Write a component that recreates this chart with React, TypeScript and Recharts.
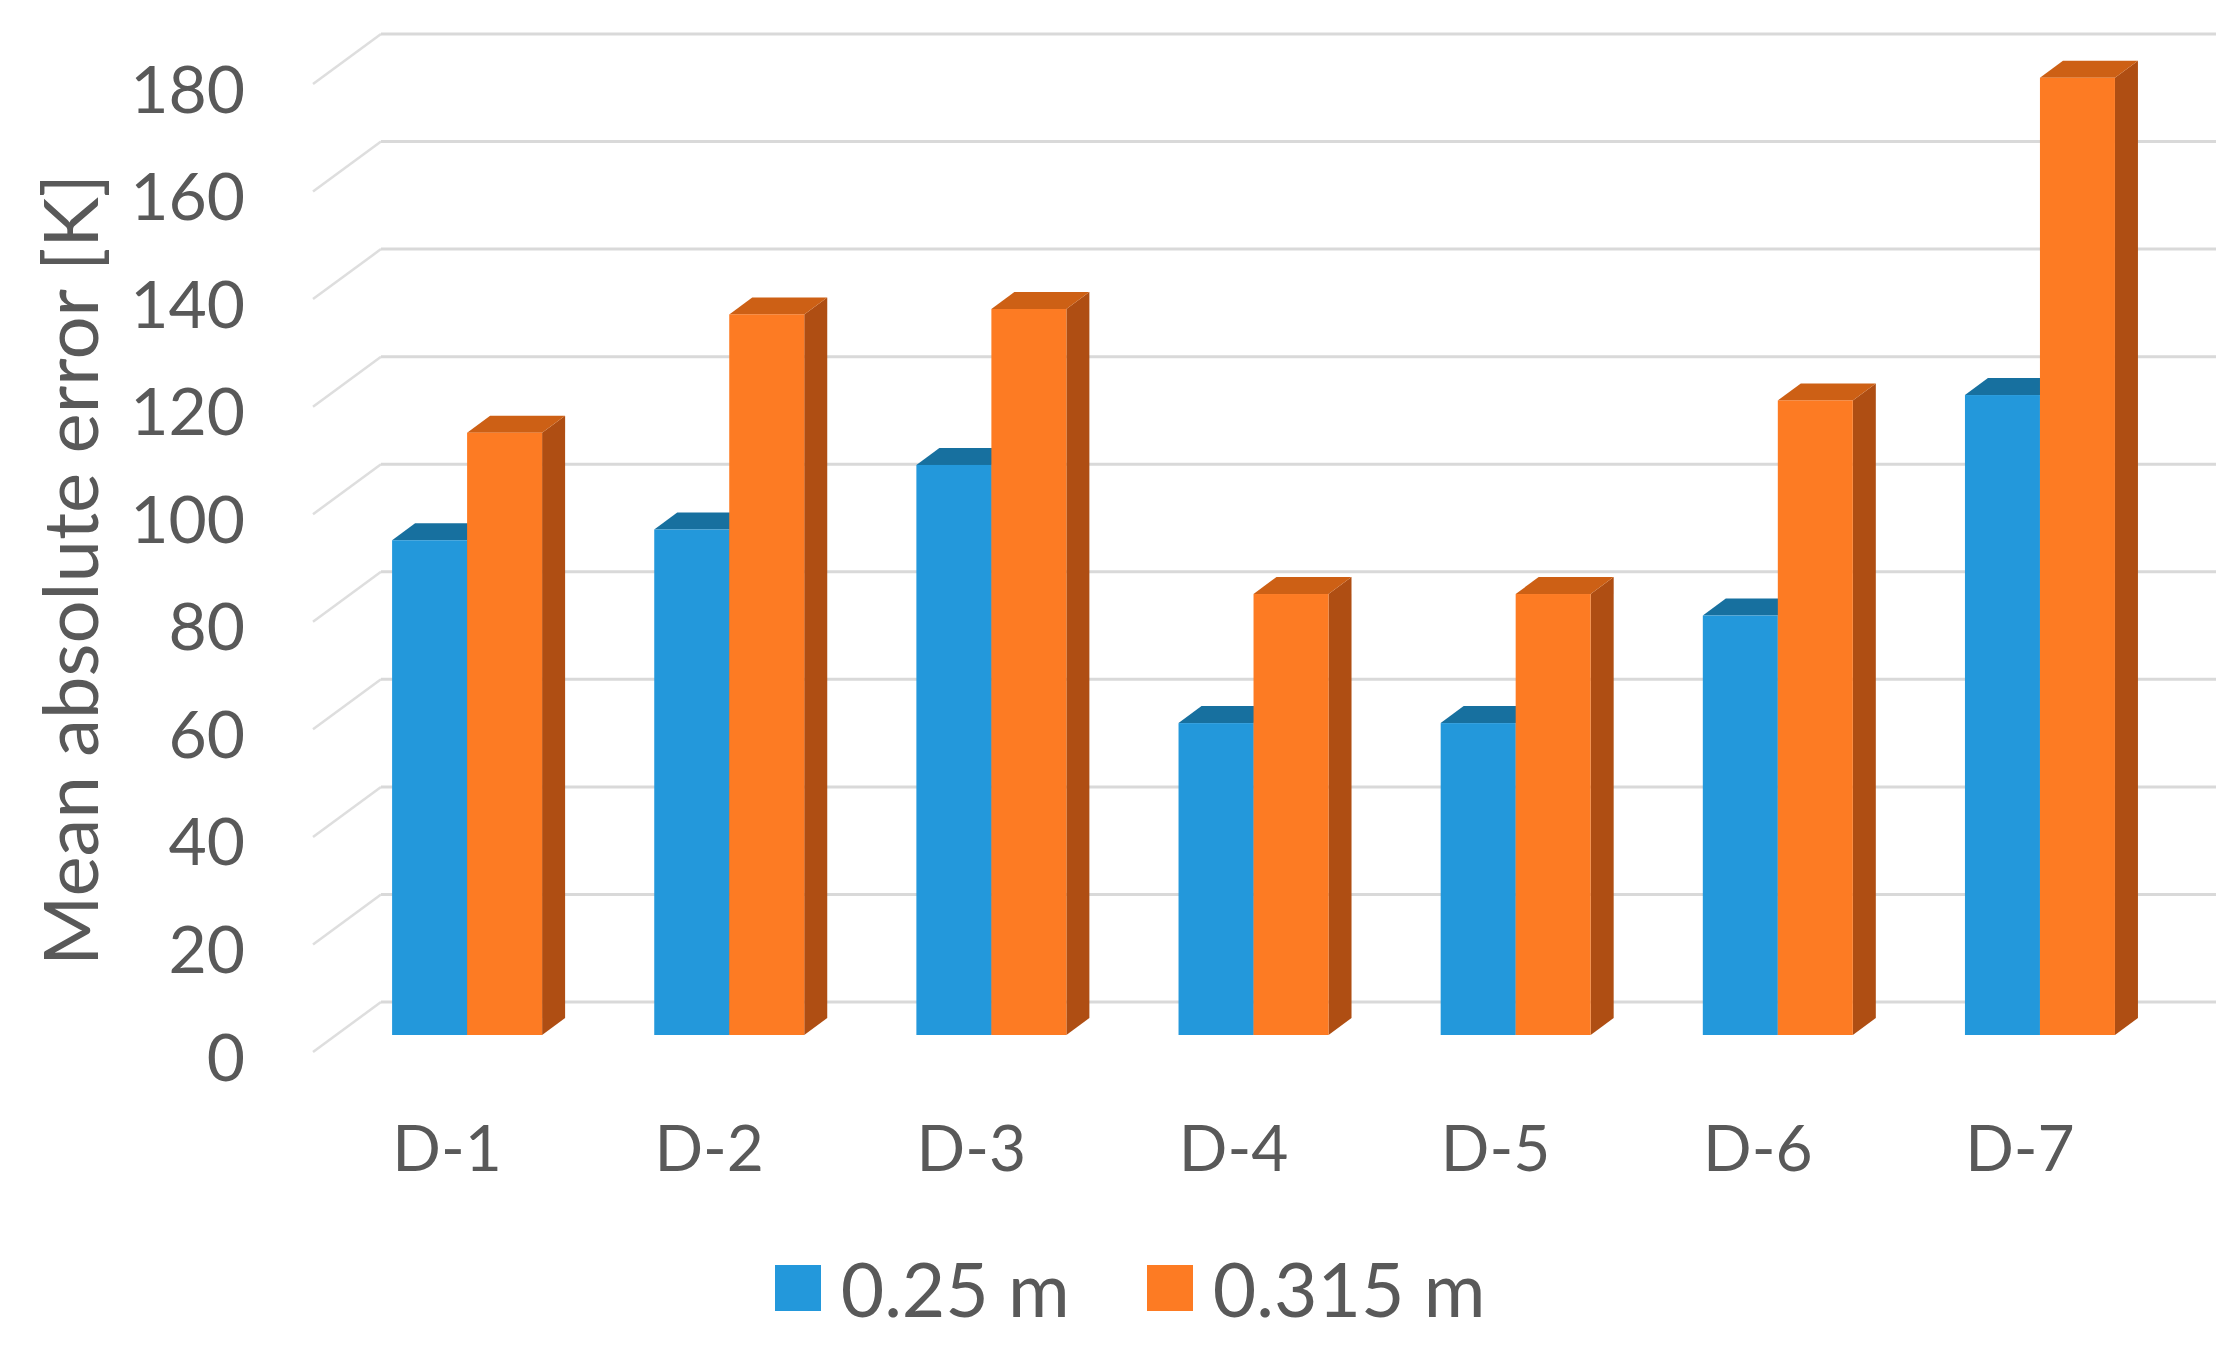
import React from 'react';
import { BarChart, Bar, XAxis, YAxis, CartesianGrid, Legend, Label } from 'recharts';

const categories = ['D-1', 'D-2', 'D-3', 'D-4', 'D-5', 'D-6', 'D-7'];
const series025 = [92, 94, 106, 58, 58, 78, 119];
const series0315 = [112, 134, 135, 82, 82, 118, 178];
const yTicks = [0, 20, 40, 60, 80, 100, 120, 140, 160, 180];
const seriesNames = ['0.25 m', '0.315 m'];
const yTitle = 'Mean absolute error [K]';

const data = categories.map((c, i) => ({ name: c, s1: series025[i], s2: series0315[i] }));

const FONT = 'Lato, "Open Sans", sans-serif';
const TEXT = '#595959';
const DX = 23;
const DY = 17;

const palettes = {
  s1: { front: '#2398DB', top: '#17709F', side: '#145E86' },
  s2: { front: '#FD7B23', top: '#CD6015', side: '#AF4E13' },
};

const makeShape = (pal: any) => (props: any) => {
  const { x, y, width, height } = props;
  if (height == null || width == null) return null;
  const top = `M${x},${y} L${x + DX},${y - DY} L${x + width + DX},${y - DY} L${x + width},${y} Z`;
  const side = `M${x + width},${y} L${x + width + DX},${y - DY} L${x + width + DX},${y + height - DY} L${x + width},${y + height} Z`;
  return (
    <g>
      <path d={side} fill={pal.side} />
      <path d={top} fill={pal.top} />
      <rect x={x} y={y} width={width} height={height} fill={pal.front} />
    </g>
  );
};

const gridLine = (p: any) => {
  const { x1, x2, y1 } = p;
  const bx = 45;
  const by = 33;
  return (
    <g key={p.key}>
      <line x1={x1 - DX} y1={y1 + DY} x2={x1 + bx} y2={y1 - by} stroke="#dedede" strokeWidth={2.5} />
      <line x1={x1 + bx} y1={y1 - by} x2={x2 + bx} y2={y1 - by} stroke="#d9d9d9" strokeWidth={3} />
    </g>
  );
};

const YTick = (props: any) => {
  const { x, y, payload } = props;
  return (
    <text x={x - 91} y={y + 20} textAnchor="end" dominantBaseline="central" fontSize={66} fill={TEXT} fontFamily={FONT}>
      {payload.value}
    </text>
  );
};

const XTick = (props: any) => {
  const { x, y, payload } = props;
  return (
    <text x={x - 20} y={y + 111} textAnchor="middle" dominantBaseline="central" fontSize={64} fill={TEXT} fontFamily={FONT}>
      {payload.value}
    </text>
  );
};

const renderTitle = (props: any) => {
  const vb = props.viewBox || {};
  const cx = vb.x - 168;
  const cy = vb.y + vb.height / 2 + 19;
  return (
    <text x={cx} y={cy} transform={`rotate(-90 ${cx} ${cy})`} textAnchor="middle" dominantBaseline="central" fontSize={76} fill={TEXT} fontFamily={FONT}>
      {yTitle}
    </text>
  );
};

const renderLegend = (props: any) => {
  const payload = props.payload || [];
  return (
    <div style={{ height: 80, display: 'flex', alignItems: 'center', justifyContent: 'center', paddingLeft: 27, fontFamily: FONT, fontSize: 75, color: TEXT }}>
      {payload.map((entry: any, i: number) => (
        <div key={i} style={{ display: 'flex', alignItems: 'center', marginRight: i === 0 ? 77 : 0 }}>
          <div style={{ width: 46, height: 46, background: entry.color, marginRight: 20 }} />
          <span style={{ lineHeight: '80px' }}>{entry.value}</span>
        </div>
      ))}
    </div>
  );
};

export default function App() {
  return (
    <div style={{ position: 'absolute', left: 0, top: 0, width: 2233, height: 1348, background: '#fff' }}>
      <BarChart
        width={2233}
        height={1348}
        data={data}
        margin={{ top: 67, right: 62, bottom: 20, left: 236 }}
        barCategoryGap="21.4%"
        barGap={0}
      >
        <CartesianGrid vertical={false} horizontal={gridLine} />
        <XAxis dataKey="name" height={213} axisLine={false} tickLine={false} tickSize={0} tickMargin={0} tick={<XTick />} interval={0} />
        <YAxis
          width={100}
          domain={[0, 180]}
          ticks={yTicks}
          axisLine={false}
          tickLine={false}
          tickSize={0}
          tickMargin={0}
          tick={<YTick />}
          interval={0}
        >
          <Label content={renderTitle} />
        </YAxis>
        <Legend verticalAlign="bottom" content={renderLegend} wrapperStyle={{ left: 0, width: 2233, bottom: 20 }} />
        <Bar dataKey="s1" name={seriesNames[0]} fill={palettes.s1.front} isAnimationActive={false} shape={makeShape(palettes.s1)} />
        <Bar dataKey="s2" name={seriesNames[1]} fill={palettes.s2.front} isAnimationActive={false} shape={makeShape(palettes.s2)} />
      </BarChart>
    </div>
  );
}
